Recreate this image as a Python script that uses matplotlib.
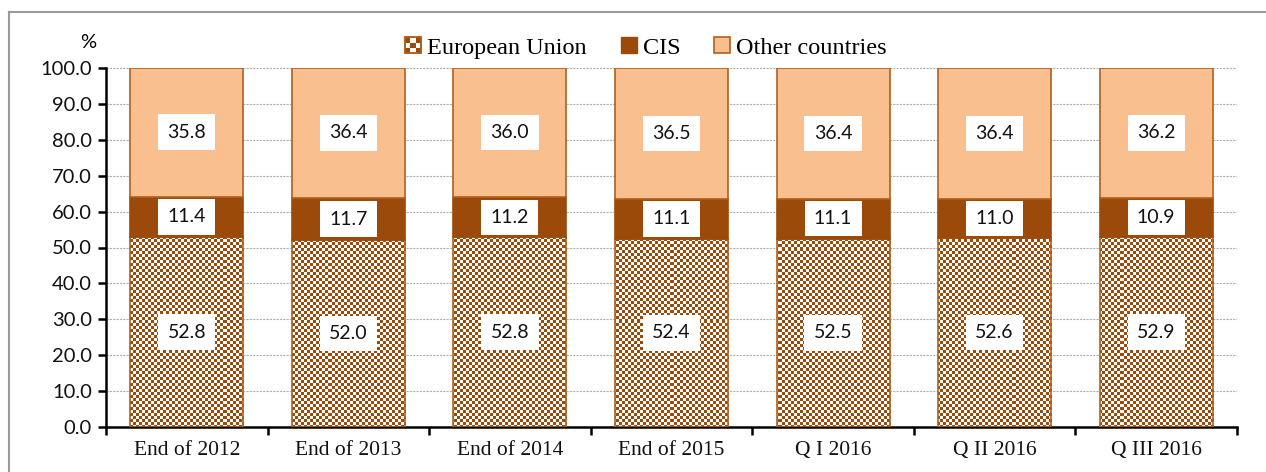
import numpy as np
import matplotlib
matplotlib.use("Agg")
import matplotlib.pyplot as plt
from matplotlib.patches import Patch, Rectangle
from matplotlib.lines import Line2D
from matplotlib.legend_handler import HandlerBase
from matplotlib.colors import ListedColormap

categories = ["End of 2012", "End of 2013", "End of 2014", "End of 2015",
              "Q I 2016", "Q II 2016", "Q III 2016"]
eu = [52.8, 52.0, 52.8, 52.4, 52.5, 52.6, 52.9]
cis = [11.4, 11.7, 11.2, 11.1, 11.1, 11.0, 10.9]
other = [35.8, 36.4, 36.0, 36.5, 36.4, 36.4, 36.2]
series_names = ["European Union", "CIS", "Other countries"]

BROWN = "#9C4A0A"
LIGHT = "#F9BF8F"
EDGE = "#B0601E"

W, H = 1266, 472
fig = plt.figure(figsize=(W / 100, H / 100), dpi=100)
ax_l, ax_r, ax_t, ax_b = 106, 1237, 68, 427
ax = fig.add_axes([ax_l / W, 1 - ax_b / H, (ax_r - ax_l) / W, (ax_b - ax_t) / H])

# frame lines of the outer figure
fig.add_artist(Line2D([9 / W, 1], [1 - 12 / H, 1 - 12 / H], color="#9a9a9a", lw=1.5))
fig.add_artist(Line2D([9 / W, 9 / W], [0, 1 - 12 / H], color="#9a9a9a", lw=1.5))

x = np.arange(len(categories))
bw = 0.70
eu_arr = np.array(eu)
cis_arr = np.array(cis)
oth_arr = np.array(other)

bars_eu = ax.bar(x, eu_arr, bw, facecolor="none", edgecolor=EDGE, lw=1.2, zorder=3)
bars_cis = ax.bar(x, cis_arr, bw, bottom=eu_arr, facecolor=BROWN, edgecolor=BROWN, lw=1.2, zorder=3)
bars_oth = ax.bar(x, oth_arr, bw, bottom=eu_arr + cis_arr, facecolor=LIGHT, edgecolor=EDGE, lw=1.2, zorder=3)

ax.set_xlim(-0.5, len(categories) - 0.5)
ax.set_ylim(0, 100)

# checkerboard fill for EU bars
pw, ph = ax_r - ax_l, ax_b - ax_t
cell = 3
yy, xx = np.mgrid[0:ph, 0:pw]
checker = ((xx // cell + yy // cell) % 2).astype(float)
cmap = ListedColormap(["white", BROWN])
for b in bars_eu:
    im = ax.imshow(checker, cmap=cmap, interpolation="nearest", aspect="auto",
                   extent=[0, 1, 0, 1], transform=ax.transAxes, zorder=2.5, origin="upper")
    im.set_clip_path(b)

# data labels
lab_kw = dict(ha="center", va="center", fontsize=14, family="Lato", color="#111111", zorder=5,
              bbox=dict(boxstyle="square,pad=0.48", fc="white", ec="none"))
for i in range(len(categories)):
    ax.text(x[i], eu_arr[i] / 2, f"{eu_arr[i]:.1f}", **lab_kw)
    ax.text(x[i], eu_arr[i] + cis_arr[i] / 2, f"{cis_arr[i]:.1f}", **lab_kw)
    ax.text(x[i], eu_arr[i] + cis_arr[i] + oth_arr[i] / 2, f"{oth_arr[i]:.1f}", **lab_kw)

# axes styling
ax.set_yticks(np.arange(0, 101, 10))
ax.set_yticklabels([f"{v:.1f}" for v in np.arange(0, 101, 10)], family="Lato", fontsize=14.5,
                   color="#111111")
ax.yaxis.grid(True, color="#b0b0b0", ls=(0, (2, 1)), lw=0.8, zorder=0)
ax.set_axisbelow(True)
ax.set_xticks(x)
ax.set_xticklabels(categories, family="Liberation Serif", fontsize=15.5, color="#111111")
ax.tick_params(axis="x", length=0, pad=10)
ax.set_xticks(np.arange(-0.5, len(categories), 1), minor=True)
ax.tick_params(axis="x", which="minor", length=6, width=1.8, direction="out")
ax.tick_params(axis="y", length=6, width=1.8, direction="out", pad=4)
for s in ["top", "right"]:
    ax.spines[s].set_visible(False)
for s in ["left", "bottom"]:
    ax.spines[s].set_linewidth(1.8)

fig.text(88 / W, 1 - 42 / H, "%", family="Lato", fontsize=14.5, ha="center", va="center")


class CheckerHandler(HandlerBase):
    def create_artists(self, legend, orig_handle, xdescent, ydescent, width, height, fontsize, trans):
        s = min(width, height)
        x0 = -xdescent + (width - s) / 2
        y0 = -ydescent + (height - s) / 2
        arts = [Rectangle((x0, y0), s, s, facecolor="white", edgecolor=EDGE, lw=1.2, transform=trans)]
        n = 3
        c = s / n
        for i in range(n):
            for j in range(n):
                if (i + j) % 2 == 0:
                    arts.append(Rectangle((x0 + i * c, y0 + j * c), c, c, facecolor=BROWN,
                                          edgecolor="none", transform=trans))
        arts.append(Rectangle((x0, y0), s, s, facecolor="none", edgecolor=EDGE, lw=1.2, transform=trans))
        return arts


eu_handle = Patch(facecolor="white", edgecolor=EDGE)
handles = [eu_handle,
           Patch(facecolor=BROWN, edgecolor=BROWN),
           Patch(facecolor=LIGHT, edgecolor=EDGE, lw=1.2)]
leg = fig.legend(handles, series_names, loc="center", bbox_to_anchor=(646 / W, 1 - 48 / H),
                 ncol=3, frameon=False, prop={"family": "Liberation Serif", "size": 17.5},
                 handlelength=0.65, handleheight=0.65, handletextpad=0.25, columnspacing=1.4,
                 handler_map={eu_handle: CheckerHandler()})

fig.savefig("out.png", dpi=100)
